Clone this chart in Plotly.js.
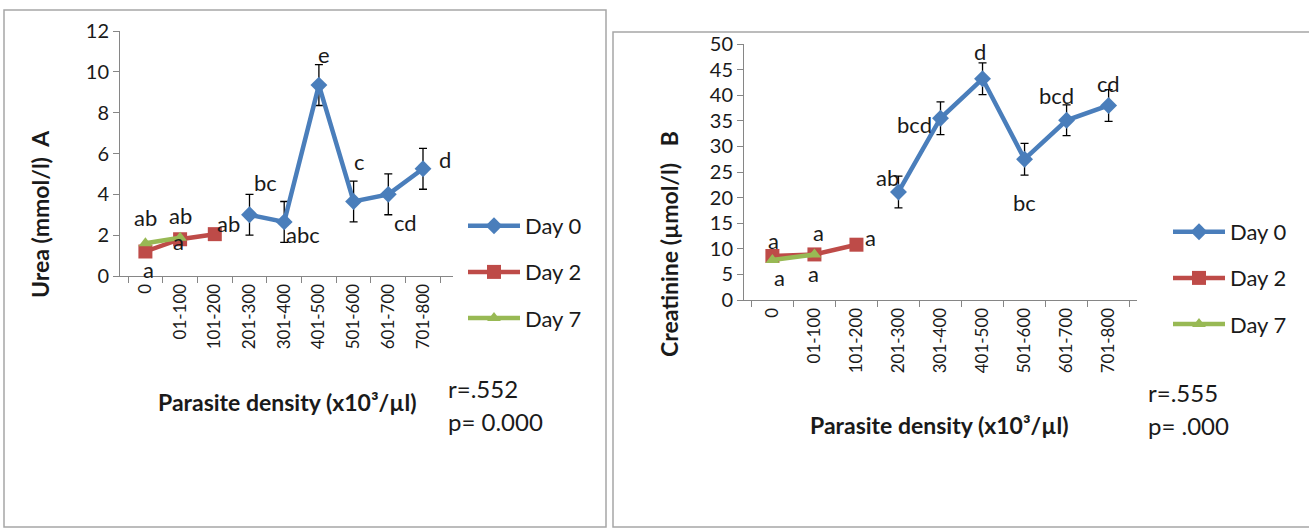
<!DOCTYPE html>
<html>
<head>
<meta charset="utf-8">
<script src="https://cdn.plot.ly/plotly-3.0.1.min.js"></script>
<style>
  html, body { margin: 0; padding: 0; background: #ffffff; }
  #chart { width: 1309px; height: 529px; }
</style>
</head>
<body>
<div id="chart"></div>
<script>
// ---------- data ----------
var categories = ["0", "01-100", "101-200", "201-300", "301-400", "401-500", "501-600", "601-700", "701-800"];
var seriesNames = ["Day 0", "Day 2", "Day 7"];

// Panel A: Urea (mmol/l)
var ureaDay0    = [null, null, null, 3.0, 2.65, 9.35, 3.65, 4.0, 5.25];
var ureaDay0Err = [null, null, null, 1.0, 1.0, 1.0, 1.0, 1.0, 1.0];
var ureaDay2    = [1.2, 1.8, 2.05, null, null, null, null, null, null];
var ureaDay7    = [1.6, 1.87, null, null, null, null, null, null, null];
var ureaDay0Letters = [null, null, null, "bc", "abc", "e", "c", "cd", "d"];
var ureaDay2Letters = ["a", "a", "ab", null, null, null, null, null, null];
var ureaDay7Letters = ["ab", "ab", null, null, null, null, null, null, null];

// Panel B: Creatinine (umol/l)
var creatDay0    = [null, null, null, 21.1, 35.5, 43.2, 27.5, 35.1, 38.0];
var creatDay0Err = [null, null, null, 3.1, 3.2, 3.1, 3.1, 3.0, 3.1];
var creatDay2    = [8.6, 8.9, 10.8, null, null, null, null, null, null];
var creatDay7    = [7.8, 8.9, null, null, null, null, null, null, null];
var creatDay0Letters = [null, null, null, "ab", "bcd", "d", "bc", "bcd", "cd"];
var creatDay2Letters = ["a", "a", "a", null, null, null, null, null, null];
var creatDay7Letters = ["a", "a", null, null, null, null, null, null, null];

var statsA = ["r=.552", "p= 0.000"];
var statsB = ["r=.555", "p= .000"];
var xTitle = "Parasite density (x10³/µl)";
var yTitleA = "Urea (mmol/l)  A";
var yTitleB = "Creatinine (µmol/l)   B";

// ---------- styling (label offsets in px, relative to the point) ----------
var ureaDay0Off  = [null, null, null, [16, 32], [19, -13], [5, 31], [6, 40], [17, -28], [22, 9]];
var ureaDay2Off  = [[3, -18], [-2, -2], [14, 11]];
var ureaDay7Off  = [[0, 26], [0, 22]];
var creatDay0Off = [null, null, null, [-11, 14], [-26, -6], [-3, 27], [0, -43], [-10, 25], [0, 22]];
var creatDay2Off = [[1, 15], [-1, -19], [14, 7]];
var creatDay7Off = [[7, -17], [4, 22]];

var FONT = "Lato, 'Open Sans', sans-serif";
var TXT = "#1a1a1a";
var colors = { d0: "#4A7EBB", d2: "#BE4B48", d7: "#98B954" };
var W = 1309, H = 529;
function px(x) { return x / W; }
function py(y) { return 1 - y / H; }

function series(name, y, err, color, symbol, size, xa, ya, legend) {
  var t = {
    type: "scatter", mode: "lines+markers", name: name,
    x: categories, y: y, xaxis: xa, yaxis: ya, legend: legend,
    legendgroup: legend + name,
    line: { color: color, width: 4.5 },
    marker: { color: color, symbol: symbol, size: size, line: { width: 0 } },
    connectgaps: false, hoverinfo: "x+y"
  };
  if (err) {
    t.error_y = { type: "data", array: err, visible: true, color: "#000000", thickness: 1.3, width: 4 };
  }
  return t;
}

var traces = [
  series(seriesNames[0], ureaDay0, ureaDay0Err, colors.d0, "diamond", 13, "x", "y", "legend"),
  series(seriesNames[1], ureaDay2, null, colors.d2, "square", 14, "x", "y", "legend"),
  series(seriesNames[2], ureaDay7, null, colors.d7, "triangle-up", 12, "x", "y", "legend"),
  series(seriesNames[0], creatDay0, creatDay0Err, colors.d0, "diamond", 13, "x2", "y2", "legend2"),
  series(seriesNames[1], creatDay2, null, colors.d2, "square", 14, "x2", "y2", "legend2"),
  series(seriesNames[2], creatDay7, null, colors.d7, "triangle-up", 12, "x2", "y2", "legend2")
];

var annotations = [];
function letters(vals, labs, offs, xa, ya) {
  for (var i = 0; i < vals.length; i++) {
    if (vals[i] == null || !labs[i]) continue;
    var o = offs[i] || [0, 0];
    annotations.push({
      xref: xa, yref: ya, x: categories[i], y: vals[i], text: labs[i],
      showarrow: false, xshift: o[0], yshift: o[1], xanchor: "center", yanchor: "middle",
      font: { family: FONT, size: 22, color: TXT }
    });
  }
}
letters(ureaDay0, ureaDay0Letters, ureaDay0Off, "x", "y");
letters(ureaDay2, ureaDay2Letters, ureaDay2Off, "x", "y");
letters(ureaDay7, ureaDay7Letters, ureaDay7Off, "x", "y");
letters(creatDay0, creatDay0Letters, creatDay0Off, "x2", "y2");
letters(creatDay2, creatDay2Letters, creatDay2Off, "x2", "y2");
letters(creatDay7, creatDay7Letters, creatDay7Off, "x2", "y2");

function paperText(text, x, y, opts) {
  var a = {
    xref: "paper", yref: "paper", x: px(x), y: py(y), text: text, showarrow: false,
    xanchor: "left", yanchor: "middle",
    font: { family: FONT, size: 24, color: TXT }
  };
  for (var k in opts) a[k] = opts[k];
  annotations.push(a);
}
var titleFont = { family: FONT, size: 23, color: TXT };
// stats
paperText(statsA[0], 446, 388, {});
paperText(statsA[1], 446, 421, {});
paperText(statsB[0], 1146, 392, {});
paperText(statsB[1], 1146, 425, {});
// axis titles
paperText("<b>" + xTitle + "</b>", 287, 402, { xanchor: "center", font: titleFont });
paperText("<b>" + xTitle + "</b>", 940, 425, { xanchor: "center", font: titleFont });
paperText("<b>" + yTitleA + "</b>", 40, 128, { xanchor: "center", yanchor: "top", textangle: -90, font: titleFont });
paperText("<b>" + yTitleB + "</b>", 669, 129, { xanchor: "center", yanchor: "top", textangle: -90, font: titleFont });

function xAxis(d0, d1, anchor) {
  return {
    domain: [px(d0), px(d1)], anchor: anchor, type: "category",
    categoryorder: "array", categoryarray: categories,
    tickson: "boundaries", ticks: "outside", ticklen: 6, tickwidth: 1, tickcolor: "#868686",
    showline: true, linecolor: "#868686", linewidth: 1,
    showgrid: false, zeroline: false, tickangle: -90,
    tickfont: { family: FONT, size: 17, color: TXT }, fixedrange: true
  };
}
function yAxis(d0, d1, anchor, range, dtick) {
  return {
    domain: [py(d1), py(d0)], anchor: anchor, range: range, dtick: dtick, tick0: 0,
    ticks: "outside", ticklen: 6, tickwidth: 1, tickcolor: "#868686",
    showline: true, linecolor: "#868686", linewidth: 1,
    showgrid: false, zeroline: false,
    tickfont: { family: FONT, size: 20, color: TXT }, fixedrange: true
  };
}

function legendBox(x, y) {
  return {
    x: px(x), y: py(y), xanchor: "left", yanchor: "top",
    bgcolor: "rgba(0,0,0,0)", borderwidth: 0,
    font: { family: FONT, size: 22, color: TXT },
    itemwidth: 52, traceorder: "grouped", tracegroupgap: 14.5
  };
}

var layout = {
  width: W, height: H,
  margin: { l: 0, r: 0, t: 0, b: 0 },
  paper_bgcolor: "#ffffff", plot_bgcolor: "rgba(0,0,0,0)",
  showlegend: true,
  xaxis: xAxis(120, 453, "y"),
  yaxis: yAxis(31, 276, "x", [0, 12], 2),
  xaxis2: xAxis(744, 1137, "y2"),
  yaxis2: yAxis(44, 300, "x2", [0, 50], 5),
  legend: legendBox(463, 205),
  legend2: legendBox(1168, 211),
  annotations: annotations,
  shapes: [
    { type: "rect", xref: "paper", yref: "paper", x0: px(4), x1: px(606), y0: py(527), y1: py(10),
      line: { color: "#a6a6a6", width: 1.5 }, fillcolor: "rgba(0,0,0,0)", layer: "below" },
    { type: "rect", xref: "paper", yref: "paper", x0: px(613), x1: 1.01, y0: py(527), y1: py(32),
      line: { color: "#a6a6a6", width: 1.5 }, fillcolor: "rgba(0,0,0,0)", layer: "below" }
  ]
};

Plotly.newPlot("chart", traces, layout, { displayModeBar: false, staticPlot: true });
</script>
</body>
</html>
